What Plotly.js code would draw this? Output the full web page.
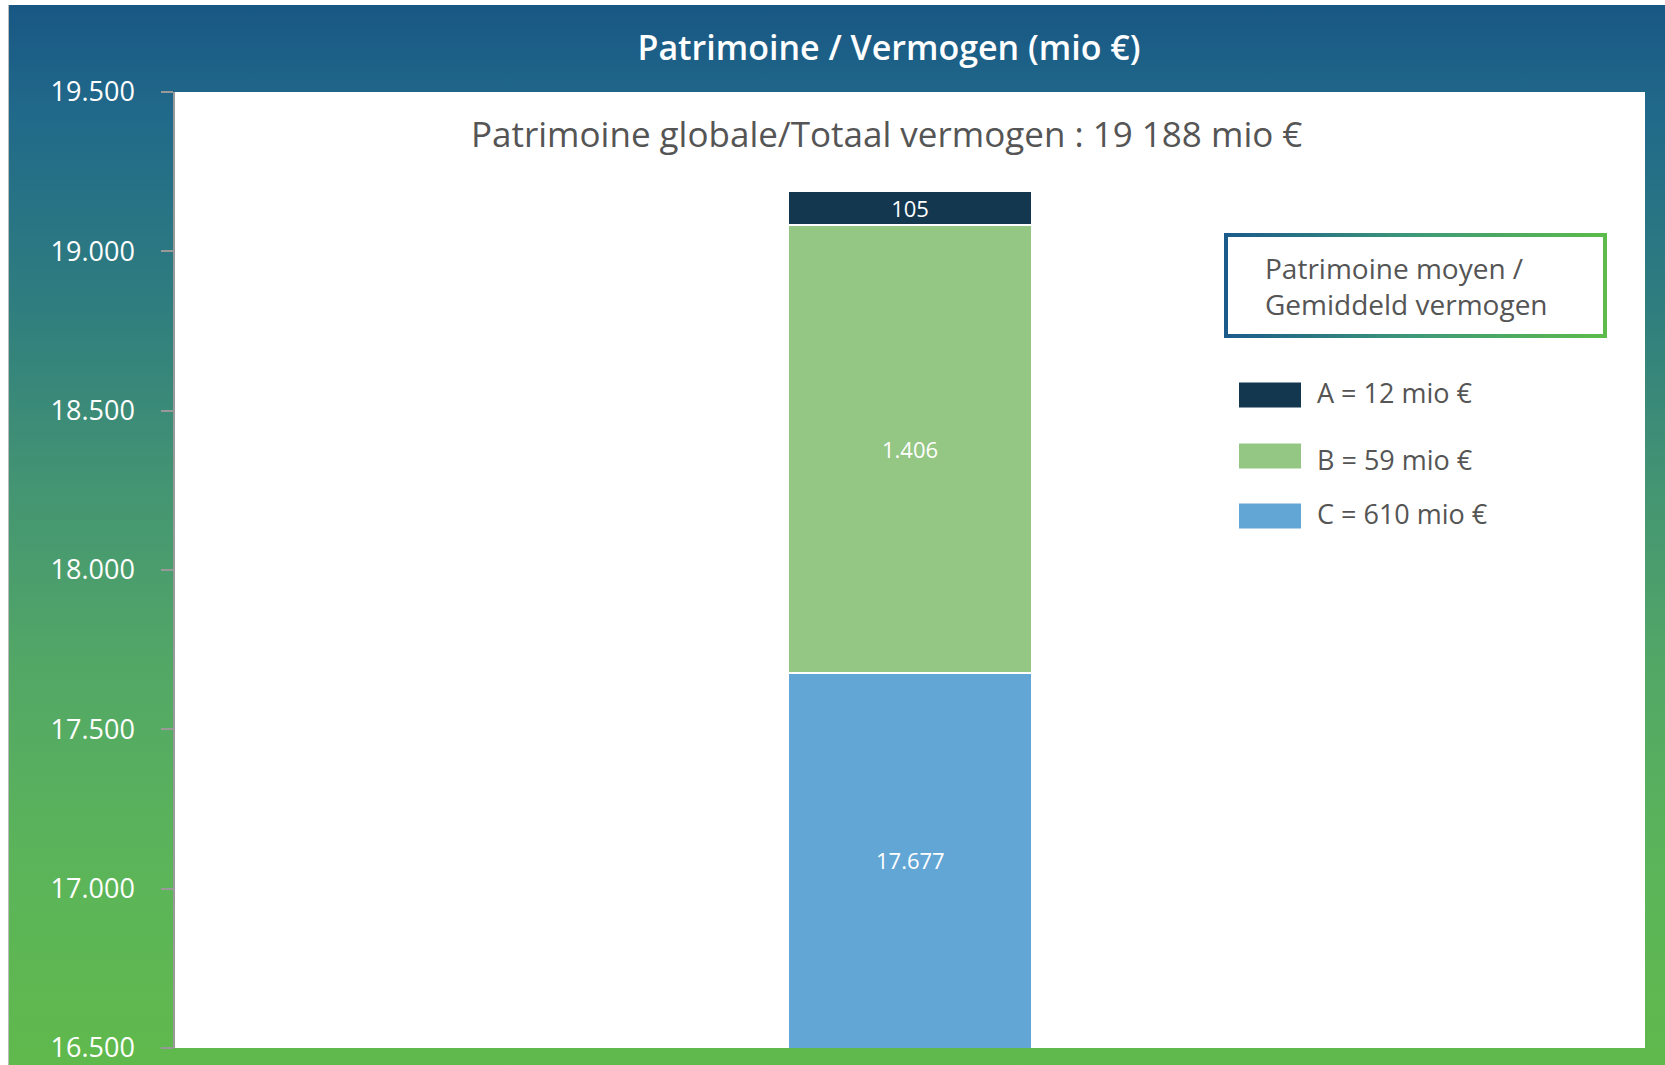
<!DOCTYPE html>
<html>
<head>
<meta charset="utf-8">
<script src="https://cdn.plot.ly/plotly-3.0.1.min.js"></script>
<style>
  html, body { margin: 0; padding: 0; background: #fff; }
  #bg {
    position: absolute; left: 8px; top: 5px; width: 1657px; height: 1060px;
    background: linear-gradient(to bottom, #185784 0%, #21698a 10%, #2f7d7f 28%, #439473 45%, #52a766 62%, #5bb45a 80%, #60b94c 100%);
    border-left: 1px solid #bbb;
  }
  #chart { position: absolute; left: 0; top: 0; width: 1665px; height: 1065px; }
  #avgbox {
    position: absolute; left: 1224px; top: 233px; width: 383px; height: 105px;
    box-sizing: border-box; border: 4px solid;
    border-image: linear-gradient(to right, #1b5b8b, #3d9a78 50%, #5cbb4a) 1;
    pointer-events: none;
  }
</style>
</head>
<body>
<div id="bg"></div>
<div id="chart"></div>
<div id="avgbox"></div>
<script>
// values (mio €)
var categories = ["Patrimoine"];
var valuesC = [17677];
var valuesB = [1406];
var valuesA = [105];

// average patrimony per class (mio €)
var avgNames = ["A", "B", "C"];
var avgValues = [12, 59, 610];
var avgColors = ["#12374f", "#94c684", "#62a6d5"];

var colorA = "#12374f";
var colorB = "#94c684";
var colorC = "#62a6d5";

var yTicks = [16500, 17000, 17500, 18000, 18500, 19000, 19500];
var yRange = [16500, 19500];

// total shown in the subtitle
var total = valuesA[0] + valuesB[0] + valuesC[0];
var totalText = String(total).replace(/\B(?=(\d{3})+(?!\d))/g, " ");

function dots(v) { return String(v).replace(/\B(?=(\d{3})+(?!\d))/g, "."); }

// plot area in pixels, used to place the side legend
var L = 175, R = 1645, T = 92, B = 1048;
function px(x) { return (x - L) / (R - L); }
function py(y) { return (B - y) / (B - T); }

function barTrace(vals, name, color, textpos) {
    return {
        x: categories,
        y: vals,
        name: name,
        type: "bar",
        marker: { color: color, line: { color: "#ffffff", width: 1.5 } },
        texttemplate: "%{y:,d}",
        textposition: textpos,
        insidetextanchor: "middle",
        constraintext: "none",
        textfont: { color: "#ffffff", size: 22, family: "Open Sans" },
        hoverinfo: "y"
    };
}

var data = [
    barTrace(valuesC, "C", colorC, "none"),
    barTrace(valuesB, "B", colorB, "inside"),
    barTrace(valuesA, "A", colorA, "inside")
];

var annotations = [{
    // bottom segment is cut by the axis, so its label sits in the visible part
    text: dots(valuesC[0]),
    xref: "x", yref: "y",
    x: categories[0], y: (yRange[0] + valuesC[0]) / 2,
    showarrow: false,
    font: { family: "Open Sans", size: 22, color: "#ffffff" }
}, {
    text: "Patrimoine globale/Totaal vermogen : " + totalText + " mio €",
    xref: "paper", yref: "paper",
    x: px(886), y: py(133),
    xanchor: "center", yanchor: "middle",
    showarrow: false,
    font: { family: "Open Sans", size: 35, color: "#555555" }
}, {
    text: "Patrimoine moyen /<br>Gemiddeld vermogen",
    xref: "paper", yref: "paper",
    x: px(1263), y: py(286),
    xanchor: "left", yanchor: "middle", align: "left",
    showarrow: false,
    font: { family: "Open Sans", size: 28, color: "#555555" }
}];

var shapes = [];
var boxY = [395, 456, 516];
var textY = [392, 459, 513];
for (let i = 0; i < avgNames.length; i++) {
    shapes.push({
        type: "rect", xref: "paper", yref: "paper",
        x0: px(1239), x1: px(1301),
        y0: py(boxY[i] - 12.5), y1: py(boxY[i] + 12.5),
        fillcolor: avgColors[i], line: { width: 0 }
    });
    annotations.push({
        text: avgNames[i] + " = " + avgValues[i] + " mio €",
        xref: "paper", yref: "paper",
        x: px(1315), y: py(textY[i]),
        xanchor: "left", yanchor: "middle",
        showarrow: false,
        font: { family: "Open Sans", size: 27, color: "#555555" }
    });
}

var layout = {
    width: 1665,
    height: 1065,
    paper_bgcolor: "rgba(0,0,0,0)",
    plot_bgcolor: "#ffffff",
    separators: ",.",
    barmode: "stack",
    bargap: 0.834,
    showlegend: false,
    margin: { l: L, r: 1665 - R, t: T, b: 1065 - B, pad: 0 },
    title: {
        text: "Patrimoine / Vermogen (mio €)",
        x: 889 / 1665, xanchor: "center",
        y: 1 - 48 / 1065, yanchor: "middle",
        yref: "container", xref: "container",
        font: { family: "Open Sans", size: 34, color: "#ffffff", weight: 600 }
    },
    xaxis: { visible: false, range: [-0.5, 0.5] },
    yaxis: {
        range: yRange,
        tickvals: yTicks,
        tickformat: ",d",
        ticks: "outside",
        ticklen: 12,
        tickcolor: "#999999",
        tickwidth: 1.5,
        ticklabelstandoff: 21,
        ticklabeloverflow: "allow",
        showline: true,
        linecolor: "#999999",
        linewidth: 1.5,
        showgrid: false,
        zeroline: false,
        tickfont: { family: "Open Sans", size: 27, color: "#ffffff" }
    },
    shapes: shapes,
    annotations: annotations
};

Plotly.newPlot("chart", data, layout, { displayModeBar: false });
</script>
</body>
</html>
